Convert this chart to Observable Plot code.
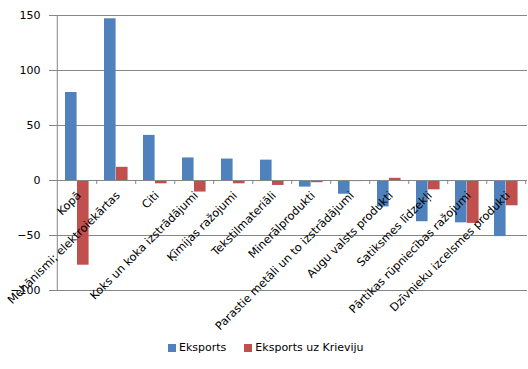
<!DOCTYPE html>
<html>
<head>
<meta charset="utf-8">
<script src="https://cdn.jsdelivr.net/npm/d3@7"></script>
<script src="https://cdn.jsdelivr.net/npm/@observablehq/plot@0.6"></script>
<style>
  body { margin: 0; background: #fff; font-family: "DejaVu Sans", sans-serif; }
  #wrap { position: relative; width: 528px; height: 369px; }
  svg { overflow: visible; }
  .legend { position: absolute; left: 168px; top: 341px; font-size: 11px; color: #000; display: flex; align-items: center; }
  .sw { display: inline-block; width: 8px; height: 8px; margin-right: 3px; }
  .item { display: flex; align-items: center; margin-right: 18px; }
</style>
</head>
<body>
<div id="wrap"></div>
<script>
const categories = [
  "Kopā",
  "Mehānismi; elektroiekārtas",
  "Citi",
  "Koks un koka izstrādājumi",
  "Ķīmijas ražojumi",
  "Tekstilmateriāli",
  "Minerālprodukti",
  "Parastie metāli un to izstrādājumi",
  "Augu valsts produkti",
  "Satiksmes līdzekļi",
  "Pārtikas rūpniecības ražojumi",
  "Dzīvnieku izcelsmes produkti"
];
const eksports = [80, 147, 41, 20.5, 19.5, 18.5, -6, -12.5, -24, -37.5, -38.5, -51];
const eksportsKrievija = [-77, 12, -3, -10.5, -3, -4.5, -2, -1, 2, -8.5, -39, -23];
const seriesNames = ["Eksports", "Eksports uz Krieviju"];
const colors = ["#4F81BD", "#C0504D"];
const yTicks = [-100, -50, 0, 50, 100, 150];

const W = 528, ML = 54, MR = 1;
const step = (W - ML - MR) / categories.length;

const blue = categories.map((c, i) => ({category: c, value: eksports[i]}));
const red = categories.map((c, i) => ({category: c, value: eksportsKrievija[i]}));

const chart = Plot.plot({
  width: W,
  height: 330,
  marginLeft: ML,
  marginRight: MR,
  marginTop: 15,
  marginBottom: 40,
  style: {fontFamily: "DejaVu Sans", fontSize: "11px", color: "#000", background: "#fff"},
  x: {domain: categories, padding: 0, axis: null},
  y: {domain: [-100, 150], ticks: yTicks, label: null},
  marks: [
    Plot.gridY(yTicks, {stroke: "#868686", strokeOpacity: 1}),
    Plot.axisY(yTicks, {tickSize: 5, stroke: "#868686", tickPadding: 9, fontSize: 11}),
    Plot.ruleX([categories[0]], {dx: -step / 2, y1: -100, y2: 150, stroke: "#868686"}),
    Plot.barY(blue, {x: "category", y: "value", fill: colors[0], insetLeft: 8, insetRight: step - 20}),
    Plot.barY(red, {x: "category", y: "value", fill: colors[1], insetLeft: 20, insetRight: step - 32}),
    Plot.ruleY([0], {stroke: "#868686"}),
    Plot.ruleX(categories, {dx: step / 2, y1: 0, y2: -3.6, stroke: "#868686"}),
    Plot.text(categories, {
      x: d => d, y: () => 0, text: d => d,
      rotate: -45, textAnchor: "end", lineAnchor: "top",
      dx: -1, dy: 10, fontSize: 11.3, fill: "#000"
    })
  ]
});
const wrap = document.getElementById("wrap");
wrap.appendChild(chart);

const legend = document.createElement("div");
legend.className = "legend";
seriesNames.forEach((n, i) => {
  const it = document.createElement("span");
  it.className = "item";
  const sw = document.createElement("span");
  sw.className = "sw";
  sw.style.background = colors[i];
  it.appendChild(sw);
  it.appendChild(document.createTextNode(n));
  legend.appendChild(it);
});
wrap.appendChild(legend);
</script>
</body>
</html>
